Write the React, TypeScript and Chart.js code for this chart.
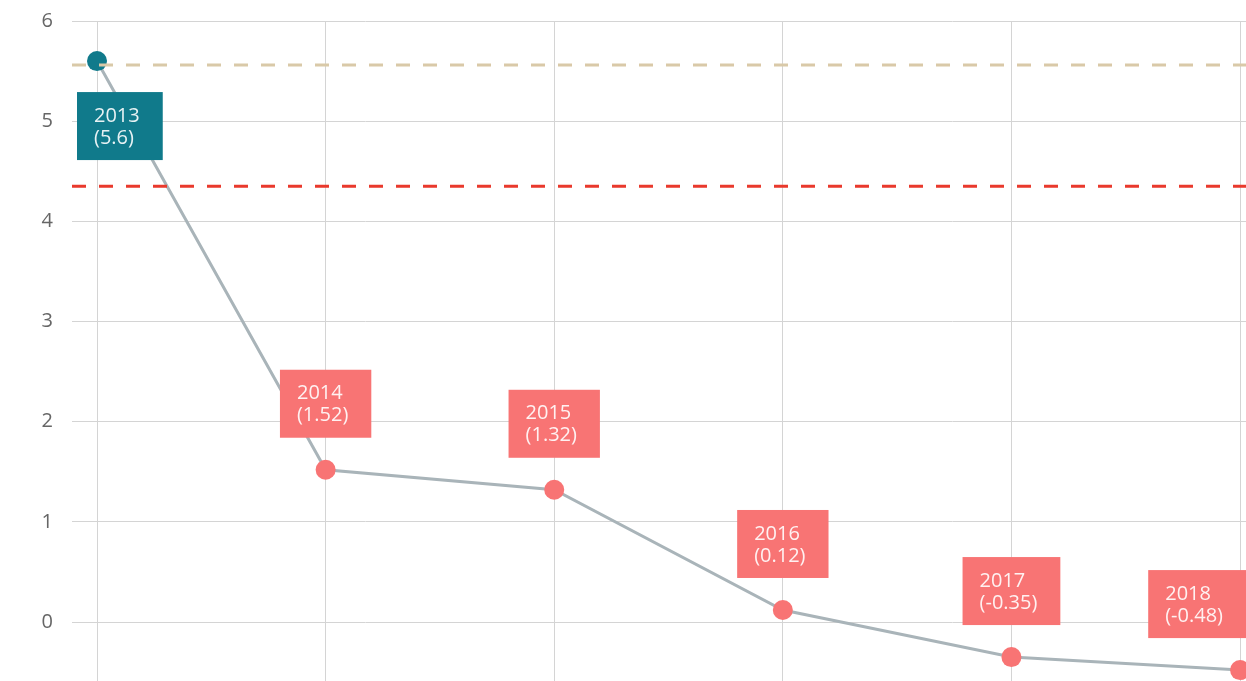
import React, { useEffect, useRef } from "react";
import { Chart, registerables } from "chart.js";

Chart.register(...registerables);

const years = [2013, 2014, 2015, 2016, 2017, 2018];
const values = [5.6, 1.52, 1.32, 0.12, -0.35, -0.48];
const yTicks = [0, 1, 2, 3, 4, 5, 6];
const upperRef = 5.56;
const lowerRef = 4.35;
const X_MIN = 2012.8906;
const X_MAX = 2018.026;
const Y_MIN = -0.589;
const Y_MAX = 6;

const TEAL = "#107a8b";
const SALMON = "#f87474";
const FONT = '"Open Sans", "DejaVu Sans", sans-serif';

const labelPlugin = {
  id: "boxLabels",
  afterDatasetsDraw(chart: any) {
    const meta = chart.getDatasetMeta(2);
    const ctx = chart.ctx;
    const area = chart.chartArea;
    ctx.save();
    ctx.font = `20px ${FONT}`;
    meta.data.forEach((pt: any, i: number) => {
      const lines = [String(years[i]), `(${values[i]})`];
      const tw = Math.max(...lines.map((l) => ctx.measureText(l).width));
      const w = tw + 40;
      const h = 68;
      let left = pt.x - w / 2;
      if (left < area.left + 5) left = area.left + 5;
      if (left + w > chart.width) left = chart.width - w;
      const top = i === 0 ? pt.y + 31 : pt.y - 32 - h;
      ctx.fillStyle = i === 0 ? TEAL : SALMON;
      ctx.fillRect(left, top, w, h);
      ctx.fillStyle = "rgba(255,255,255,0.9)";
      ctx.textAlign = "left";
      ctx.textBaseline = "middle";
      ctx.fillText(lines[0], left + 17, top + 24);
      ctx.fillText(lines[1], left + 17, top + 46);
    });
    ctx.restore();
  },
};

export default function App() {
  const ref = useRef<HTMLCanvasElement>(null);
  useEffect(() => {
    if (!ref.current) return;
    const chart = new Chart(ref.current, {
      type: "line",
      data: {
        datasets: [
          {
            data: [
              { x: X_MIN, y: upperRef },
              { x: X_MAX, y: upperRef },
            ],
            borderColor: "#d9c9a8",
            borderWidth: 3,
            borderDash: [14, 13],
            pointRadius: 0,
          },
          {
            data: [
              { x: X_MIN, y: lowerRef },
              { x: X_MAX, y: lowerRef },
            ],
            borderColor: "#e9392c",
            borderWidth: 3,
            borderDash: [14, 13],
            pointRadius: 0,
          },
          {
            data: years.map((x, i) => ({ x, y: values[i] })),
            borderColor: "#a9b4b9",
            borderWidth: 3,
            pointRadius: 10,
            pointBorderWidth: 0,
            pointBackgroundColor: years.map((_, i) => (i === 0 ? TEAL : SALMON)),
            tension: 0,
          },
        ],
      },
      options: {
        animation: false,
        responsive: false,
        devicePixelRatio: 1,
        layout: { autoPadding: false, padding: { top: 21, left: 0, right: 0, bottom: 0 } },
        plugins: { legend: { display: false }, tooltip: { enabled: false } },
        scales: {
          x: {
            type: "linear",
            min: X_MIN,
            max: X_MAX,
            afterBuildTicks: (s: any) => {
              s.ticks = years.map((v) => ({ value: v }));
            },
            afterFit: (s: any) => {
              s.height = 0;
              s.paddingLeft = 0;
              s.paddingRight = 0;
              s.paddingTop = 0;
              s.paddingBottom = 0;
            },
            ticks: { display: false },
            grid: { color: "#d4d4d4", lineWidth: 1, drawTicks: false },
            border: { display: false },
          },
          y: {
            min: Y_MIN,
            max: Y_MAX,
            afterBuildTicks: (s: any) => {
              s.ticks = yTicks.map((v) => ({ value: v }));
            },
            afterFit: (s: any) => {
              s.width = 72;
              s.paddingLeft = 0;
              s.paddingRight = 0;
              s.paddingTop = 0;
              s.paddingBottom = 0;
            },
            ticks: {
              color: "#666666",
              font: { family: FONT, size: 20 },
              padding: 19,
            },
            grid: { color: "#d4d4d4", lineWidth: 1, drawTicks: false },
            border: { display: false },
          },
        },
      },
      plugins: [labelPlugin],
    } as any);
    return () => chart.destroy();
  }, []);
  return (
    <div style={{ position: "fixed", left: 0, top: 0, width: 1246, height: 681, background: "#fff" }}>
      <canvas ref={ref} width={1246} height={681} style={{ width: 1246, height: 681 }} />
    </div>
  );
}
